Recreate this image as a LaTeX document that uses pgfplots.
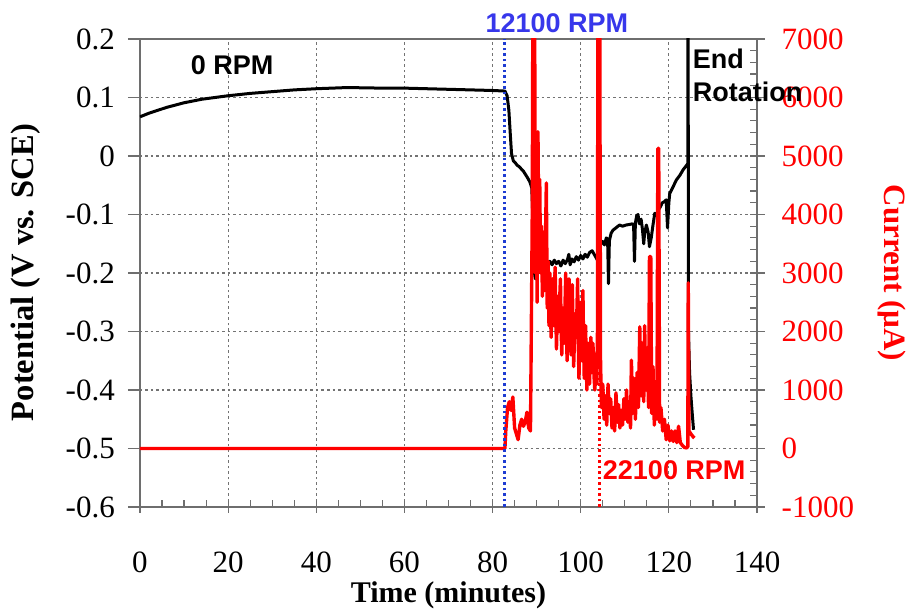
\documentclass[border=0pt]{standalone}
\usepackage{fontspec}
\setmainfont{Liberation Serif}
\newfontfamily\annot{Liberation Sans}
\usepackage{pgfplots}
\pgfplotsset{compat=1.18}
\definecolor{myred}{RGB}{255,0,0}
\definecolor{lblue}{RGB}{30,60,210}
\definecolor{tblue}{RGB}{55,55,235}
\definecolor{axgray}{RGB}{110,110,110}
\definecolor{gridgray}{RGB}{115,115,115}
\pgfplotstableread{
t V
0 0.067
2 0.073
4 0.078
6 0.083
8 0.087
10 0.091
12 0.094
14 0.097
17 0.100
20 0.103
25 0.107
30 0.110
35 0.113
40 0.115
47 0.117
55 0.116
60 0.116
65 0.115
70 0.114
75 0.113
80 0.112
82.8 0.111
83.3 0.103
83.7 0.078
84.0 0.040
84.3 0.004
84.7 -0.008
85.2 -0.012
85.6 -0.016
86.0 -0.018
86.5 -0.022
87.0 -0.026
87.5 -0.032
88.0 -0.038
88.5 -0.045
88.9 -0.055
89.2 -0.120
89.5 -0.200
89.7 -0.210
90.0 -0.190
90.4 -0.200
90.8 -0.186
91.2 -0.195
91.6 -0.190
92.0 -0.183
92.5 -0.188
93.0 -0.180
93.5 -0.186
94.0 -0.178
94.5 -0.184
95.0 -0.180
95.5 -0.188
96.0 -0.178
96.5 -0.184
97.0 -0.177
97.3 -0.168
97.6 -0.186
98.0 -0.176
98.5 -0.181
99.0 -0.172
99.5 -0.178
100.0 -0.170
100.5 -0.176
101.0 -0.168
101.5 -0.173
102.0 -0.165
102.6 -0.162
103.2 -0.170
103.8 -0.178
104.2 -0.160
104.6 -0.150
105.0 -0.146
105.4 -0.152
105.8 -0.140
106.1 -0.142
106.3 -0.218
106.5 -0.145
106.9 -0.132
107.3 -0.127
107.8 -0.124
108.8 -0.118
109.5 -0.120
110.3 -0.118
111.1 -0.117
111.7 -0.116
112.0 -0.118
112.2 -0.180
112.4 -0.115
112.7 -0.102
113.0 -0.100
113.3 -0.116
113.7 -0.108
114.0 -0.125
114.3 -0.150
114.5 -0.132
114.9 -0.118
115.3 -0.130
115.6 -0.155
116.0 -0.140
116.4 -0.118
116.8 -0.098
117.2 -0.100
117.6 -0.092
118.0 -0.088
118.5 -0.080
119.0 -0.078
119.4 -0.075
119.7 -0.123
120.0 -0.080
120.2 -0.064
121.0 -0.052
121.7 -0.041
122.5 -0.033
123.2 -0.024
123.8 -0.018
124.3 -0.013
124.35 0.400
124.45 -0.300
124.7 -0.370
125.0 -0.410
125.3 -0.440
125.6 -0.468
}\potdata
\pgfplotstableread{
t I
0 0
82.8 0
83.0 300
83.4 700
83.8 800
84.2 650
84.6 880
85.0 350
85.4 250
85.8 150
86.2 400
86.6 500
87.0 380
87.4 450
87.8 620
88.2 350
88.6 300
88.8 2100
89.0 4000
89.2 9000
89.5 9000
89.7 3000
89.9 5000
90.1 2500
90.3 5415
90.5 3500
90.7 4600
90.9 3000
91.1 3800
91.3 2600
91.5 3700
91.6 3400
91.8 2700
92.0 3600
92.2 4540
92.4 2400
92.6 3200
92.7 2600
92.8 2100
93.0 3000
93.15 2300
93.3 1900
93.45 2600
93.6 2900
93.75 2200
93.9 2100
94.05 2700
94.2 3100
94.35 2300
94.5 1700
94.65 2200
94.8 2600
94.95 2300
95.1 2000
95.25 2600
95.4 2900
95.55 2100
95.7 1600
95.85 2000
96.0 2400
96.15 2100
96.3 1800
96.45 2500
96.6 3000
96.75 2200
96.9 1500
97.05 1900
97.2 2300
97.35 2900
97.5 2700
97.65 2000
97.8 1600
97.95 2300
98.1 2800
98.25 2000
98.4 1400
98.55 1800
98.7 2300
98.85 2100
99.0 1900
99.15 2400
99.3 2900
99.45 1800
99.6 1200
99.75 1800
99.9 2500
100.05 2000
100.2 1500
100.35 2000
100.5 2700
100.65 1800
100.8 1200
100.95 1700
101.1 2100
101.25 1500
101.4 1000
101.55 1400
101.7 1800
101.85 1400
102.0 1100
102.15 1500
102.3 1900
102.45 1600
102.6 1300
102.75 1800
102.9 1600
103.05 1200
103.2 1000
103.35 1300
103.5 1500
103.65 1100
103.8 2000
103.9 8000
104.3 8000
104.5 1500
104.7 700
105.0 1100
105.3 500
105.6 900
105.9 400
106.2 1100
106.5 600
106.8 850
107.1 350
107.4 700
107.7 300
108.0 950
108.3 450
108.6 750
108.9 350
109.2 650
109.5 400
109.8 850
110.1 500
110.4 1000
110.7 450
111.0 800
111.3 350
111.5 1510
111.8 600
112.1 1200
112.4 500
112.8 1300
113.1 700
113.4 2080
113.7 900
114.0 1800
114.3 800
114.5 2100
114.8 1000
115.1 1600
115.4 700
115.6 3280
115.9 3280
116.1 600
116.4 1400
116.7 400
117.0 900
117.3 500
117.5 5130
117.7 5130
117.9 450
118.2 700
118.6 300
119.0 500
119.4 150
119.8 400
120.2 130
120.6 300
121.0 120
121.4 300
121.8 100
122.2 380
122.6 100
123.0 60
123.5 20
124.0 10
124.3 30
124.4 2830
124.55 300
125.0 250
125.5 200
125.8 180
}\curdata
\begin{document}
\begin{tikzpicture}
\useasboundingbox (-140pt,-105pt) rectangle (773pt,507pt);
\begin{axis}[
  scale only axis, width=617pt, height=468pt,
  xmin=0, xmax=140, ymin=-0.6, ymax=0.2,
  xtick={0,20,40,60,80,100,120,140},
  xticklabels={0,20,40,60,80,100,120,140},
  minor x tick num=3,
  ytick={-0.6,-0.5,-0.4,-0.3,-0.2,-0.1,0,0.1,0.2},
  yticklabels={-0.6,-0.5,-0.4,-0.3,-0.2,-0.1,0,0.1,0.2},
  xtick pos=bottom, ytick pos=left,
  xtick align=center, ytick align=outside,
  major tick length=12pt, minor tick length=7pt,
  minor x tick style={yshift=3.5pt},
  tick style={axgray, line width=1.2pt},
  axis line style={axgray, line width=1.2pt},
  grid=major,
  major grid style={gridgray, line width=1.1pt, dash pattern=on 2.5pt off 3pt},
  ticklabel style={font=\fontsize{31}{33}\selectfont, inner sep=0pt},
  xticklabel style={anchor=north, yshift=-39pt},
  yticklabel style={anchor=east, xshift=-13pt},
  xlabel={Time (minutes)},
  ylabel={Potential (V vs. SCE)},
  xlabel style={font=\bfseries\fontsize{30}{34}\selectfont, at={(axis description cs:0.5,-0.1880)}, anchor=center},
  ylabel style={font=\bfseries\fontsize{32.5}{36}\selectfont, at={(axis description cs:-0.186,0.501)}, anchor=center},
]
\addplot[black, line width=3pt, line join=round] table[x=t, y=V] {\potdata};
\coordinate (lbl0) at (axis cs:20.9,0.1556);
\coordinate (lblA) at (axis cs:94.6,0.2273);
\coordinate (lblEnd) at (axis cs:125.4,0.1667);
\coordinate (lblRot) at (axis cs:125.4,0.1103);
\coordinate (lblB) at (axis cs:105.0,-0.5368);
\end{axis}
\begin{axis}[
  scale only axis, width=617pt, height=468pt,
  xmin=0, xmax=140, ymin=-1000, ymax=7000,
  axis x line=none, axis y line*=right,
  ytick={-1000,0,1000,2000,3000,4000,5000,6000,7000},
  yticklabels={-1000,0,1000,2000,3000,4000,5000,6000,7000},
  minor y tick num=4,
  ytick align=center,
  major tick length=15pt, minor tick length=7pt,
  minor y tick style={xshift=-3.5pt},
  tick style={axgray, line width=1.2pt},
  axis line style={axgray, line width=1.2pt},
  ticklabel style={font=\fontsize{31}{33}\selectfont, inner sep=0pt, text=myred},
  yticklabel style={anchor=west, xshift=17pt},
  ylabel={Current (µA)},
  ylabel style={font=\bfseries\fontsize{31}{34}\selectfont, text=myred, at={(axis description cs:1.219,0.5)}, anchor=center, rotate=180},
]
\addplot[myred, line width=3.4pt, line join=round] table[x=t, y=I] {\curdata};
\addplot[myred, line width=3pt, dash pattern=on 2.5pt off 3pt] coordinates {(104.3,-1000) (104.3,7000)};
\addplot[lblue, line width=3pt, dash pattern=on 2.5pt off 3pt] coordinates {(82.8,-1000) (82.8,7000)};
\end{axis}
\begin{scope}[every node/.style={font=\annot\bfseries\fontsize{27}{30}\selectfont, inner sep=0pt}]
\node[anchor=center, black] at (lbl0) {0 RPM};
\node[anchor=center, text=tblue] at (lblA) {12100 RPM};
\node[anchor=west, black] at (lblEnd) {End};
\node[anchor=west, black] at (lblRot) {Rotation};
\node[anchor=west, text=myred] at (lblB) {22100 RPM};
\end{scope}
\end{tikzpicture}
\end{document}
